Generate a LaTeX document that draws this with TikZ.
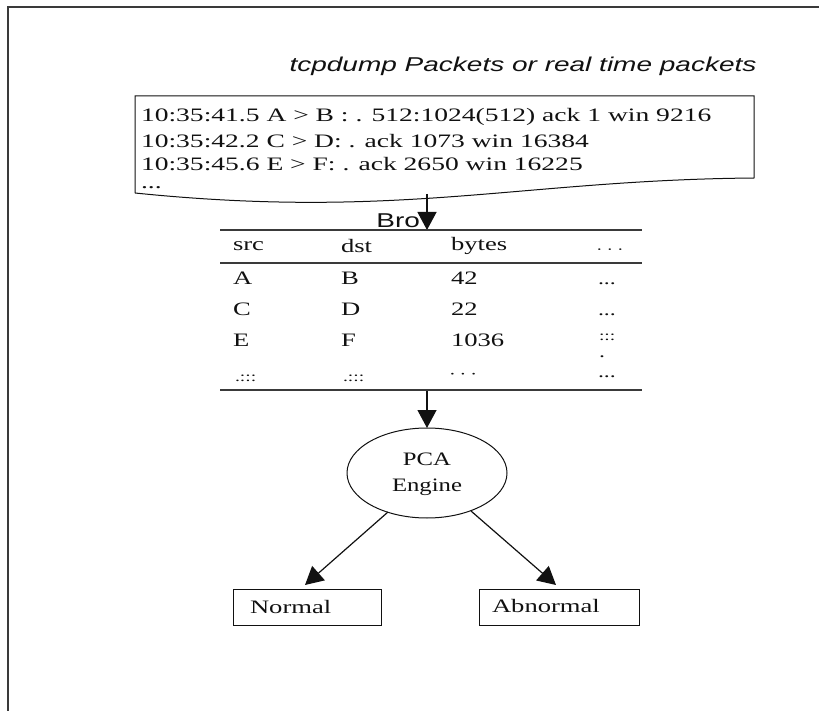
\documentclass[tikz,border=0pt]{standalone}
\usepackage{fontspec}
\usepackage{graphicx}
\setmainfont{Liberation Serif}
\newfontfamily\arialfont{Liberation Sans}
\usetikzlibrary{arrows.meta,shapes.geometric}
\newcommand{\sx}[1]{\scalebox{1.4}[1]{#1}}
\newcommand{\sxx}[1]{\scalebox{1.45}[1]{#1}}
\definecolor{ink}{HTML}{111111}
\definecolor{rule}{HTML}{3a3a3a}
\tikzset{
  txt/.style={inner sep=0pt, outer sep=0pt, text=ink, font=\fontsize{19}{22}\selectfont},
  cell/.style={txt, anchor=west},
  dotcell/.style={txt, anchor=west, font=\fontsize{17}{19}\selectfont},
  arr/.style={draw=ink, line width=1.2pt, -{Triangle[width=19pt,length=18pt]}},
  outbox/.style={draw=ink, line width=1pt, rectangle, minimum height=36pt, inner sep=0pt},
}
\begin{document}
\begin{tikzpicture}[x=1pt,y=-1pt]
\useasboundingbox (0,0) rectangle (819,711);
% frame
\draw[rule, line width=1.6pt] (819,7) -- (8,7) -- (8,711);
% title
\node[txt, font=\arialfont\itshape\fontsize{20}{24}\selectfont] (title) at (523,66) {\sx{tcpdump Packets or real time packets}};
% packet box
\draw[ink, line width=1pt] (135,193) -- (135,96) -- (754,96) -- (754,178)
  .. controls (520,180) and (400,220) .. (135,193);
\node[cell] (l1) at (141,117) {\sxx{10:35:41.5 A > B : . 512:1024(512) ack 1 win 9216}};
\node[cell] (l2) at (141,141) {\sxx{10:35:42.2 C > D: . ack 1073 win 16384}};
\node[cell] (l3) at (141,164) {\sxx{10:35:45.6 E > F: . ack 2650 win 16225}};
\node[cell] (l4) at (141,188) {\sxx{...}};
\coordinate (pktbot) at (427,194);
\coordinate (tabtop) at (427,230);
\draw[arr] (pktbot) -- (tabtop);
\node[txt, font=\arialfont\fontsize{20}{22}\selectfont, anchor=east] (bro) at (420,221) {\sx{Bro}};
% table
\draw[rule, line width=1.5pt] (220,230) -- (642,230);
\draw[rule, line width=1.5pt] (220,263) -- (642,263);
\draw[rule, line width=1.5pt] (220,390) -- (642,390);
\node[cell] (h1) at (233,246) {\sx{src}};
\node[cell] (h2) at (341,246) {\sx{dst}};
\node[cell] (h3) at (451,246) {\sx{bytes}};
\node[cell] (h4) at (596,250) {\sx{$\dots$}};
\node[cell] (a1) at (233,278) {\sx{A}};
\node[cell] (a2) at (341,278) {\sx{B}};
\node[cell] (a3) at (451,278) {\sx{42}};
\node[dotcell] (a4) at (598,284) {\sx{...}};
\node[cell] (b1) at (233,309) {\sx{C}};
\node[cell] (b2) at (341,309) {\sx{D}};
\node[cell] (b3) at (451,309) {\sx{22}};
\node[dotcell] (b4) at (598,315) {\sx{...}};
\node[cell] (c1) at (233,340) {\sx{E}};
\node[cell] (c2) at (341,340) {\sx{F}};
\node[cell] (c3) at (451,340) {\sx{1036}};
\node[txt, anchor=west, font=\fontsize{14}{16}\selectfont] (c4) at (599,337) {\sx{:::}};
\node[txt, anchor=west, font=\fontsize{14}{16}\selectfont] (d1) at (235,378) {\sx{.:::}};
\node[txt, anchor=west, font=\fontsize{14}{16}\selectfont] (d2) at (343,378) {\sx{.:::}};
\node[cell] (d3) at (449,375) {\sx{$\cdots$}};
\node[dotcell] (d4a) at (599,357) {\sx{.}};
\node[dotcell] (d4) at (598,377) {\sx{...}};
% PCA engine
\coordinate (tabbot) at (427,391);
\draw[ink, line width=1pt] (427,473) ellipse [x radius=80, y radius=45];
\node[txt, align=center, font=\fontsize{19}{26}\selectfont] (pca) at (427,474) {\scalebox{1.3}[1]{PCA}\\\scalebox{1.3}[1]{Engine}};
\coordinate (pcatop) at (427,428);
\coordinate (pcaleft) at (388,512);
\coordinate (pcaright) at (471,511);
\draw[arr] (tabbot) -- (pcatop);
% outputs
\node[outbox, minimum width=148pt] (normal) at (307,607) {};
\node[cell] (normaltxt) at (250,607) {\sx{Normal}};
\node[outbox, minimum width=160pt] (abnormal) at (559,607) {};
\node[cell] (abnormaltxt) at (492,606) {\sx{Abnormal}};
\coordinate (ntip) at (305,585);
\coordinate (atip) at (556,585);
\draw[arr] (pcaleft) -- (ntip);
\draw[arr] (pcaright) -- (atip);
\end{tikzpicture}
\end{document}
